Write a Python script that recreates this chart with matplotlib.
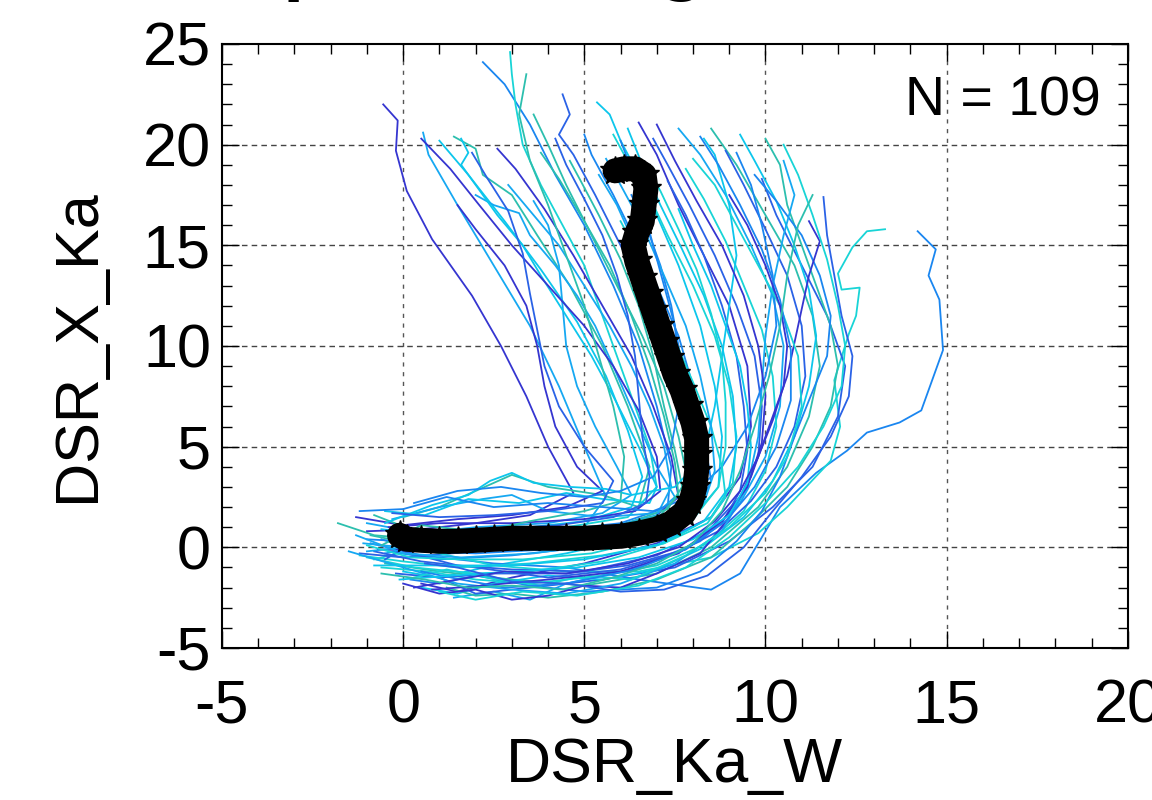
import numpy as np
import matplotlib
matplotlib.use("Agg")
import matplotlib.pyplot as plt
from matplotlib.ticker import MultipleLocator

plt.rcParams['axes.unicode_minus'] = False

# mean trajectory (thick black)
mean_x = [-0.1, 0.1, 0.5, 1.0, 1.5, 2.0, 2.5, 3.0, 3.5, 4.0, 4.5, 5.0, 5.5, 6.0, 6.5, 7.0,
          7.4, 7.75, 7.95, 8.05, 8.1, 8.1, 8.1, 8.0, 7.85, 7.7, 7.5, 7.35, 7.2, 7.05, 6.9,
          6.75, 6.6, 6.45, 6.35, 6.45, 6.6, 6.65, 6.7, 6.65, 6.4, 6.1, 5.85]
mean_y = [0.6, 0.4, 0.35, 0.3, 0.3, 0.35, 0.4, 0.45, 0.45, 0.45, 0.45, 0.45, 0.5, 0.55, 0.7, 0.9,
          1.2, 1.7, 2.3, 3.0, 3.8, 4.6, 5.4, 6.2, 7.0, 7.8, 8.6, 9.4, 10.2, 11.0, 11.8,
          12.6, 13.4, 14.2, 15.0, 15.6, 16.2, 17.0, 17.8, 18.5, 18.8, 18.8, 18.7]

# individual trajectories, (x, y) pairs
tracks = [
    [(-1.0, 0.8), (0.5, 0.9), (2.0, 1.2), (3.5, 1.6), (4.7, 2.7), (4.0, 5.0), (3.4, 7.5), (2.7, 10.0),
     (1.9, 12.5), (0.8, 15.3), (0.1, 17.7), (-0.2, 19.7), (-0.15, 21.2), (-0.55, 22.0)],
    [(-0.5, -0.3), (1.0, 0.2), (3.0, 0.6), (5.0, 1.0), (5.6, 2.5), (5.0, 5.0), (4.3, 8.0), (3.5, 11.0),
     (2.5, 14.0), (1.5, 17.0), (0.7, 19.5), (0.55, 20.6)],
    [(0.0, 1.5), (1.0, 2.0), (2.0, 2.8), (3.0, 3.6), (4.0, 3.0), (5.5, 2.6), (6.5, 2.0), (6.8, 4.0),
     (6.2, 7.0), (5.5, 10.0), (4.6, 13.0), (3.7, 15.5), (3.0, 17.5), (2.2, 18.5), (2.0, 19.8), (1.4, 20.4)],
    [(2.2, 24.1), (2.8, 23.0), (3.5, 21.0), (4.2, 18.5), (5.0, 16.0), (5.8, 13.0), (6.5, 10.0), (7.0, 7.0),
     (7.4, 4.0), (7.3, 2.0), (6.0, 1.2), (4.0, 0.8), (2.0, 0.5), (0.0, 0.3), (-1.0, 0.4)],
    [(2.95, 24.6), (3.0, 23.5), (3.1, 22.0), (3.3, 20.0), (3.8, 18.0), (4.4, 16.0), (5.0, 14.0), (5.6, 11.0),
     (6.2, 8.0), (6.8, 5.0), (7.0, 3.0), (6.2, 1.5), (4.5, 1.0), (2.5, 0.6), (0.5, 0.0), (-0.8, -0.6)],
    [(4.4, 22.5), (4.6, 21.5), (4.3, 20.5), (4.7, 19.5), (5.3, 17.5), (6.0, 15.0), (6.7, 12.5), (7.3, 10.0),
     (7.8, 7.5), (8.1, 5.0), (8.2, 3.0), (7.5, 1.5), (6.0, 0.8), (4.0, 0.3), (2.0, -0.2), (0.0, -0.5), (-1.2, -0.3)],
    [(5.35, 22.1), (5.7, 21.5), (6.0, 20.2), (6.5, 18.5), (7.0, 16.5), (7.6, 14.0), (8.2, 11.0), (8.6, 8.0),
     (8.8, 5.5), (8.7, 3.0), (8.0, 1.5), (6.5, 0.5), (4.5, -0.3), (2.5, -0.9), (1.0, -1.5), (0.0, -1.2)],
    [(6.5, 21.1), (7.0, 19.5), (7.6, 17.0), (8.3, 14.5), (9.0, 12.0), (9.5, 9.0), (9.6, 6.0), (9.3, 3.5),
     (8.5, 1.5), (7.0, 0.2), (5.0, -0.8), (3.0, -1.5), (1.5, -2.2), (0.5, -1.8)],
    [(7.6, 20.8), (8.2, 19.5), (8.9, 17.5), (9.6, 15.0), (10.2, 12.5), (10.5, 10.0), (10.4, 7.0), (10.0, 4.5),
     (9.3, 2.2), (8.2, 0.3), (6.5, -1.0), (4.5, -1.8), (3.5, -2.6), (2.5, -2.2), (1.4, -2.5)],
    [(8.5, 20.8), (9.2, 19.0), (10.0, 16.5), (10.8, 14.0), (11.3, 11.5), (11.5, 9.0), (11.2, 6.5), (10.6, 4.0),
     (9.8, 2.0), (8.5, 0.0), (7.0, -1.3), (5.0, -1.9), (3.0, -1.6), (1.0, -1.2), (-0.5, -0.8)],
    [(14.2, 15.7), (14.7, 14.8), (14.5, 13.5), (14.8, 12.3), (14.9, 9.8), (14.3, 6.8), (13.7, 6.2), (12.8, 5.7),
     (12.25, 4.8), (11.4, 3.7), (10.4, 2.0), (9.85, 0.35), (9.3, -1.3), (8.5, -2.1), (6.5, -1.6), (4.5, -1.0),
     (2.5, -0.8), (0.5, -0.4), (-0.9, 0.2)],
    [(13.3, 15.8), (12.8, 15.7), (12.4, 14.9), (12.0, 13.6), (12.1, 12.8), (12.6, 12.9), (12.5, 11.5), (12.3, 10.6),
     (11.9, 8.3), (12.06, 6.0), (11.8, 4.3), (10.6, 2.0), (9.8, 0.7), (8.5, -0.5), (6.5, -1.2), (4.5, -1.2),
     (2.5, -0.9), (1.0, -0.3), (-0.3, 0.3)],
    [(9.9, 18.3), (10.3, 16.5), (11.0, 14.0), (11.7, 11.5), (12.2, 9.0), (12.0, 6.5), (11.3, 4.0), (10.2, 2.0),
     (9.0, 0.3), (7.5, -1.0), (5.5, -1.6), (3.5, -2.0), (2.0, -2.3), (1.0, -1.5)],
    [(1.0, 20.2), (1.8, 18.5), (2.8, 16.2), (3.8, 13.8), (4.8, 11.2), (5.6, 8.5), (6.2, 5.8), (6.6, 3.5),
     (6.3, 2.0), (5.0, 1.3), (3.0, 0.9), (1.0, 0.6), (-0.6, 0.9)],
    [(2.6, 19.8), (3.1, 18.8), (3.9, 16.8), (4.7, 14.5), (5.5, 12.0), (6.3, 9.5), (6.9, 7.0), (7.4, 4.5),
     (7.6, 2.5), (6.8, 1.3), (5.0, 0.6), (3.0, 0.2), (1.0, -0.2), (-0.7, -0.1)],
    [(2.0, 17.5), (2.5, 17.0), (3.2, 16.6), (3.5, 15.5), (4.2, 14.0), (4.8, 12.5), (5.3, 11.0), (5.8, 9.0),
     (6.4, 6.5), (7.0, 4.0), (7.5, 2.5), (7.0, 1.7), (5.5, 1.5), (4.0, 1.8), (3.0, 2.6), (2.2, 2.4),
     (1.0, 2.0), (-0.3, 1.4)],
    [(3.6, 21.5), (4.0, 20.0), (4.5, 18.0), (5.2, 15.5), (5.9, 13.0), (6.6, 10.5), (7.2, 8.0), (7.6, 5.5),
     (7.9, 3.0), (7.4, 1.4), (6.0, 0.7), (4.0, 0.4), (2.0, 0.1), (0.2, 0.2), (-0.9, 0.6)],
    [(5.0, 20.5), (5.2, 19.5), (5.8, 17.5), (6.4, 15.3), (7.0, 13.0), (7.6, 10.5), (8.0, 8.0), (8.3, 5.5),
     (8.5, 3.3), (8.1, 1.8), (7.0, 0.8), (5.0, 0.0), (3.0, -0.4), (1.0, -0.6), (-0.4, -0.2)],
    [(5.8, 20.5), (6.1, 19.5), (6.7, 17.8), (7.3, 15.5), (8.0, 13.0), (8.6, 10.5), (9.0, 8.0), (9.2, 5.5),
     (9.1, 3.2), (8.5, 1.5), (7.2, 0.2), (5.5, -0.7), (3.5, -1.2), (2.0, -1.3), (0.3, -1.0), (-1.0, -0.5)],
    [(6.9, 20.3), (7.3, 19.0), (7.9, 17.0), (8.6, 14.5), (9.2, 12.0), (9.7, 9.5), (9.9, 7.0), (9.8, 4.5),
     (9.3, 2.5), (8.4, 0.8), (7.0, -0.4), (5.0, -1.2), (3.0, -1.1), (1.5, -0.9), (0.0, -0.2)],
    [(9.3, 20.5), (9.7, 19.2), (10.3, 17.2), (10.8, 15.0), (11.2, 12.8), (11.4, 10.5), (11.2, 8.0), (10.8, 5.5),
     (10.2, 3.3), (9.4, 1.5), (8.3, 0.0), (7.0, -1.1), (5.5, -1.6), (4.0, -1.4), (2.5, -1.8), (1.5, -2.3), (0.5, -2.0)],
    [(1.5, 17.0), (2.0, 15.8), (2.8, 14.0), (3.4, 12.0), (3.7, 10.0), (3.9, 8.0), (4.2, 6.0), (4.8, 4.0),
     (5.5, 2.8), (4.5, 2.0), (3.0, 1.6), (1.5, 1.4), (0.0, 1.1), (-1.3, 1.5)],
    [(3.6, 17.2), (4.0, 16.0), (4.3, 14.0), (4.4, 12.0), (4.5, 10.0), (4.8, 8.0), (5.3, 6.0), (5.9, 4.0),
     (6.3, 2.6), (5.5, 1.7), (4.0, 1.2), (2.0, 1.0), (0.5, 0.7), (-1.0, 1.2)],
    [(4.6, 19.2), (4.9, 18.2), (5.4, 16.5), (6.0, 14.3), (6.5, 12.0), (6.9, 9.5), (7.2, 7.0), (7.5, 4.8),
     (7.7, 3.0), (7.3, 1.9), (6.0, 1.1), (4.0, 0.7), (2.0, 0.6), (0.2, 0.9), (-0.8, 1.6)],
    [(6.3, 17.5), (6.7, 16.0), (7.1, 14.0), (7.4, 12.0), (7.6, 10.0), (7.8, 8.0), (8.0, 6.0), (8.2, 4.0),
     (8.3, 2.3), (7.6, 1.0), (6.0, 0.3), (4.0, -0.1), (2.0, -0.3), (0.5, -0.2), (-0.6, 0.4)],
    [(7.8, 18.8), (8.3, 17.3), (8.9, 15.2), (9.4, 13.0), (9.9, 10.8), (10.2, 8.5), (10.3, 6.0), (10.0, 3.8),
     (9.4, 1.8), (8.4, 0.2), (7.0, -0.9), (5.5, -1.4), (3.5, -1.8), (2.0, -1.6), (0.7, -1.2), (-0.6, -1.0)],
    [(8.9, 19.7), (9.4, 18.0), (10.0, 15.8), (10.6, 13.5), (11.0, 11.0), (11.1, 8.5), (10.8, 6.0), (10.3, 4.0),
     (9.6, 2.3), (8.7, 0.8), (7.5, -0.3), (6.0, -1.1), (4.0, -1.5), (2.0, -1.0), (0.5, -0.7), (-0.8, -0.2)],
    [(1.6, 20.3), (1.8, 19.6), (1.6, 19.0), (2.0, 18.0), (2.6, 16.5), (3.3, 15.0), (3.8, 13.5), (4.5, 11.5),
     (5.2, 9.5), (5.8, 7.5), (6.5, 5.0), (7.0, 3.0), (6.8, 2.2), (5.5, 2.4), (4.5, 2.7), (3.2, 2.2),
     (1.8, 2.4), (0.6, 1.6), (-0.5, 1.8)],
    [(0.5, 20.3), (1.3, 18.8), (2.1, 17.0), (3.0, 15.0), (4.0, 13.0), (5.0, 11.0), (5.8, 9.0), (6.5, 6.8),
     (7.0, 4.5), (7.1, 2.8), (6.4, 1.8), (5.0, 1.4), (3.0, 1.2), (1.0, 1.2), (-0.4, 1.0)],
    [(2.9, 18.0), (3.6, 16.5), (4.3, 15.0), (5.0, 13.0), (5.7, 11.0), (6.3, 9.0), (6.8, 7.0), (7.2, 5.0),
     (7.4, 3.0), (7.0, 1.6), (5.5, 0.9), (3.5, 0.5), (1.5, 0.3), (0.0, 0.0), (-1.1, 0.2)],
    [(10.0, 20.3), (10.4, 19.0), (10.6, 17.0), (11.0, 15.0), (11.4, 13.0), (11.8, 11.0), (12.0, 9.0), (11.8, 7.0),
     (11.3, 5.0), (10.6, 3.0), (9.6, 1.2), (8.5, -0.5), (7.0, -1.6), (5.5, -2.2), (4.0, -2.5), (3.0, -2.3),
     (2.0, -2.4), (1.2, -2.0)],
    [(9.7, 18.5), (10.3, 17.2), (11.0, 15.5), (11.5, 13.5), (11.8, 11.5), (11.7, 9.5), (11.2, 7.3), (10.8, 5.5),
     (10.4, 3.5), (9.9, 1.8), (9.2, 0.3), (8.2, -1.2), (7.0, -2.0), (5.0, -2.2), (3.5, -1.9), (2.0, -1.4),
     (1.0, -1.8), (0.2, -1.6)],
    [(6.0, 16.2), (6.5, 14.5), (7.0, 12.5), (7.5, 10.3), (8.0, 8.2), (8.5, 6.0), (8.8, 4.0), (8.9, 2.5),
     (8.4, 1.2), (7.2, 0.2), (5.5, -0.4), (3.5, -0.8), (1.5, -1.0), (0.0, -0.7), (-1.2, -0.4)],
    [(7.3, 18.2), (7.8, 16.5), (8.3, 14.5), (8.8, 12.0), (9.2, 9.5), (9.4, 7.0), (9.5, 4.8), (9.3, 2.8),
     (8.8, 1.2), (7.8, -0.1), (6.2, -0.9), (4.5, -1.3), (2.5, -1.3), (1.0, -1.5), (-0.2, -1.3)],
    [(-0.5, 1.2), (0.8, 2.1), (1.8, 2.6), (2.4, 3.3), (3.0, 3.7), (3.6, 3.2), (4.6, 3.0), (5.6, 2.9),
     (6.3, 2.6), (7.5, 3.0), (8.3, 4.5), (8.6, 7.0), (8.8, 9.5), (9.0, 12.0), (9.2, 14.5), (9.0, 17.0),
     (8.6, 19.5), (8.3, 20.3)],
    [(0.0, -1.8), (1.0, -2.3), (2.0, -2.1), (3.0, -2.6), (4.0, -2.4), (5.0, -1.9), (6.0, -2.0), (7.0, -1.3),
     (8.2, -0.3), (9.0, 1.5), (9.6, 3.5), (10.1, 6.0), (10.6, 8.5), (10.9, 11.0), (11.2, 13.5), (11.5, 15.2),
     (11.2, 16.2)],
    [(-1.5, -0.2), (0.2, -1.1), (1.5, -1.8), (3.0, -2.1), (4.5, -2.3), (6.0, -1.8), (7.5, -0.8), (8.8, 0.8),
     (9.5, 3.0), (9.8, 5.5), (9.9, 8.0), (10.0, 10.5), (10.2, 13.0), (10.5, 15.5), (10.8, 17.5), (10.5, 19.2)],
    [(-1.8, 1.2), (-0.8, 0.6), (0.5, 0.4), (2.0, 0.7), (3.5, 1.3), (5.0, 1.8), (6.0, 2.3), (6.1, 4.5),
     (5.8, 7.0), (5.4, 9.5), (5.0, 12.0), (4.5, 14.5), (4.0, 17.0), (3.5, 19.2), (3.2, 21.5), (3.4, 23.5)],
    [(-1.2, 1.8), (0.0, 1.9), (1.2, 2.5), (2.5, 2.0), (4.0, 2.2), (5.5, 2.0), (6.9, 1.8), (7.9, 2.5),
     (8.8, 4.0), (9.5, 6.0), (10.0, 8.5), (10.3, 11.0), (10.2, 13.5), (9.9, 16.0), (9.6, 18.0), (9.2, 19.6)],
    [(8.0, 19.3), (8.6, 18.0), (9.2, 16.0), (9.8, 14.0), (10.4, 12.0), (10.9, 9.5), (11.0, 7.0), (10.6, 4.5),
     (10.0, 2.7), (9.0, 1.0), (7.8, -0.4), (6.3, -1.6), (5.0, -1.4), (3.8, -1.9), (2.6, -1.6), (1.2, -1.1),
     (0.3, -1.5)],
    [(1.9, 19.6), (2.3, 18.4), (2.9, 16.7), (3.3, 14.6), (3.5, 12.6), (3.7, 10.8), (3.9, 9.0), (4.3, 7.0),
     (5.0, 5.0), (5.8, 3.3), (5.5, 2.2), (4.0, 1.8), (2.5, 1.6), (1.0, 1.5), (-0.3, 1.7)],
    [(6.2, 20.8), (6.6, 19.0), (7.1, 17.0), (7.7, 14.8), (8.3, 12.5), (8.8, 10.0), (9.1, 7.5), (9.2, 5.0),
     (9.0, 3.0), (8.3, 1.3), (7.0, 0.1), (5.0, -0.6), (3.0, -0.9), (1.0, -0.9), (-0.8, -0.9)],
    [(7.0, 21.0), (7.5, 19.2), (8.1, 17.2), (8.8, 15.0), (9.4, 12.5), (9.8, 10.0), (10.0, 7.5), (9.9, 5.2),
     (9.5, 3.0), (8.8, 1.3), (7.6, -0.3), (6.0, -1.2), (4.0, -1.6), (2.2, -1.9), (0.8, -2.1)],
    [(5.6, 19.3), (6.0, 18.0), (6.6, 16.0), (7.2, 13.5), (7.8, 11.0), (8.2, 8.5), (8.5, 6.0), (8.6, 3.8),
     (8.3, 2.2), (7.3, 1.0), (5.6, 0.2), (3.6, -0.3), (1.6, -0.5), (0.0, -0.3), (-1.3, 0.6)],
    [(3.8, 19.6), (4.3, 18.3), (5.0, 16.2), (5.7, 14.0), (6.3, 11.5), (6.8, 9.0), (7.2, 6.5), (7.5, 4.2),
     (7.6, 2.6), (7.1, 1.6), (5.8, 1.0), (4.0, 0.9), (2.0, 0.8), (0.5, 1.1), (-0.6, 0.1)],
    [(8.2, 20.4), (8.7, 19.0), (9.3, 17.0), (9.9, 14.8), (10.4, 12.3), (10.7, 9.8), (10.7, 7.3), (10.3, 5.0),
     (9.7, 3.0), (8.9, 1.3), (7.8, -0.1), (6.4, -1.1), (4.5, -1.8), (2.8, -2.0), (1.6, -1.6), (0.5, -1.2)],
    [(10.5, 20.0), (10.9, 18.5), (11.3, 16.5), (11.7, 14.3), (12.0, 12.0), (12.2, 10.0), (12.1, 8.0), (11.6, 6.0),
     (10.9, 4.0), (10.0, 2.2), (9.0, 0.5), (7.8, -1.0), (6.5, -1.9), (4.8, -2.4), (3.3, -2.2), (2.0, -2.6),
     (1.0, -2.2)],
    [(4.2, 20.3), (4.5, 19.0), (5.0, 17.3), (5.5, 15.5), (5.9, 13.5), (6.2, 11.5), (6.4, 9.5), (6.5, 7.5),
     (6.6, 5.5), (6.8, 3.5), (6.7, 2.2), (5.8, 1.5), (4.3, 1.1), (2.5, 0.9), (0.8, 0.8), (-0.5, -0.6)],
    [(7.6, 16.8), (8.0, 15.0), (8.5, 13.0), (8.9, 11.0), (9.3, 9.0), (9.5, 7.0), (9.6, 5.0), (9.5, 3.2),
     (9.0, 1.6), (8.0, 0.4), (6.5, -0.5), (4.8, -1.0), (3.0, -1.2), (1.4, -1.4), (-0.1, -1.6)],
    [(9.0, 17.5), (9.5, 16.0), (10.0, 14.0), (10.4, 12.0), (10.6, 10.0), (10.5, 8.0), (10.2, 6.3), (9.8, 4.5),
     (9.3, 2.8), (8.6, 1.3), (7.6, 0.0), (6.2, -0.8), (4.5, -1.3), (2.8, -1.2), (1.5, -1.6), (0.3, -2.0)],
    [(5.4, 18.5), (5.9, 17.0), (6.4, 15.0), (6.9, 13.0), (7.3, 11.0), (7.7, 9.0), (8.0, 7.0), (8.2, 5.0),
     (8.3, 3.4), (8.0, 2.0), (7.0, 1.0), (5.5, 0.3), (3.5, 0.0), (1.5, -0.2), (0.0, 0.0), (-1.0, -0.2)],
    [(-0.6, -1.3), (0.6, -1.6), (1.8, -2.0), (3.0, -1.9), (4.4, -2.1), (5.8, -1.5), (7.0, -0.8), (8.0, 0.2),
     (8.8, 1.8), (9.3, 3.8), (9.7, 6.0), (10.1, 8.5), (10.4, 11.0), (10.6, 13.5), (10.9, 16.0), (11.3, 17.5)],
    [(0.3, 2.2), (1.5, 2.8), (2.7, 3.0), (3.8, 2.7), (5.0, 2.5), (6.0, 2.8), (6.9, 3.5), (7.4, 5.0),
     (7.6, 7.0), (7.6, 9.0), (7.5, 11.0), (7.2, 13.0), (6.9, 15.0), (6.6, 17.0), (6.3, 18.8), (6.0, 20.2)],
    [(6.7, 19.0), (7.1, 17.7), (7.6, 15.8), (8.1, 13.8), (8.5, 11.6), (8.8, 9.4), (8.9, 7.2), (8.9, 5.0),
     (8.7, 3.0), (8.0, 1.4), (6.8, 0.4), (5.2, -0.3), (3.3, -0.6), (1.6, -0.6), (0.2, -0.5), (-1.0, 0.1)],
    [(11.6, 17.4), (11.7, 15.5), (11.9, 13.5), (12.1, 11.5), (12.4, 9.5), (12.3, 7.5), (11.8, 5.5), (11.0, 3.5),
     (10.2, 1.8), (9.4, 0.0), (8.4, -1.4), (7.2, -2.1), (6.0, -2.2), (4.5, -1.8), (3.0, -1.7), (1.5, -1.0),
     (0.6, -0.8)],
]

n_label = "N = 109"
title_text = "Temporal Average"

palette = ['#3535d0', '#2a62e6', '#1a86f0', '#16a8f2', '#0cc6ec', '#18d4d6', '#2cbfae']

fig = plt.figure(figsize=(11.52, 8.0), dpi=100)
ax = fig.add_axes([0.1927, 0.19, 0.7863, 0.755])
font = ['Liberation Sans', 'DejaVu Sans']

for i, tr in enumerate(tracks):
    xs = [p[0] for p in tr]
    ys = [p[1] for p in tr]
    ax.plot(xs, ys, color=palette[(i * 3) % len(palette)], lw=1.3, zorder=2)

ax.plot(mean_x, mean_y, color='black', lw=18, solid_capstyle='round', zorder=4)
ax.plot(mean_x, mean_y, linestyle='none', marker='*', ms=22, color='black', zorder=5)

ax.set_xlim(-5, 20)
ax.set_ylim(-5, 25)
ax.xaxis.set_major_locator(MultipleLocator(5))
ax.yaxis.set_major_locator(MultipleLocator(5))
ax.xaxis.set_minor_locator(MultipleLocator(1))
ax.yaxis.set_minor_locator(MultipleLocator(1))

for v in [0, 5, 10, 15]:
    ax.axvline(v, color='#555555', lw=1.0, ls=(0, (3, 4)), zorder=1)
for v in [0, 5, 10, 15, 20]:
    ax.axhline(v, color='#444444', lw=1.0, ls=(0, (4, 3)), zorder=1)

ax.tick_params(which='both', direction='in', top=True, right=True, width=1.0)
ax.tick_params(which='major', length=12, labelsize=44)
ax.tick_params(axis='y', which='major', pad=8)
ax.tick_params(axis='x', which='major', pad=22)
ax.tick_params(which='minor', length=7)
for lab in ax.get_xticklabels() + ax.get_yticklabels():
    lab.set_family(font)
for s in ax.spines.values():
    s.set_linewidth(1.5)

ax.set_xlabel('DSR_Ka_W', fontsize=45, family=font, labelpad=0)
ax.set_ylabel('DSR_X_Ka', fontsize=44, family=font, labelpad=26)
ax.text(0.97, 0.905, n_label, transform=ax.transAxes, ha='right', va='center',
        fontsize=40, family=font)

# title mostly cut off by the top edge, only descenders show
fig.text(0.131, 1.012, title_text, ha='left', va='baseline',
         fontsize=42, fontweight='bold', family='DejaVu Sans')

fig.savefig('out.png', dpi=100)
